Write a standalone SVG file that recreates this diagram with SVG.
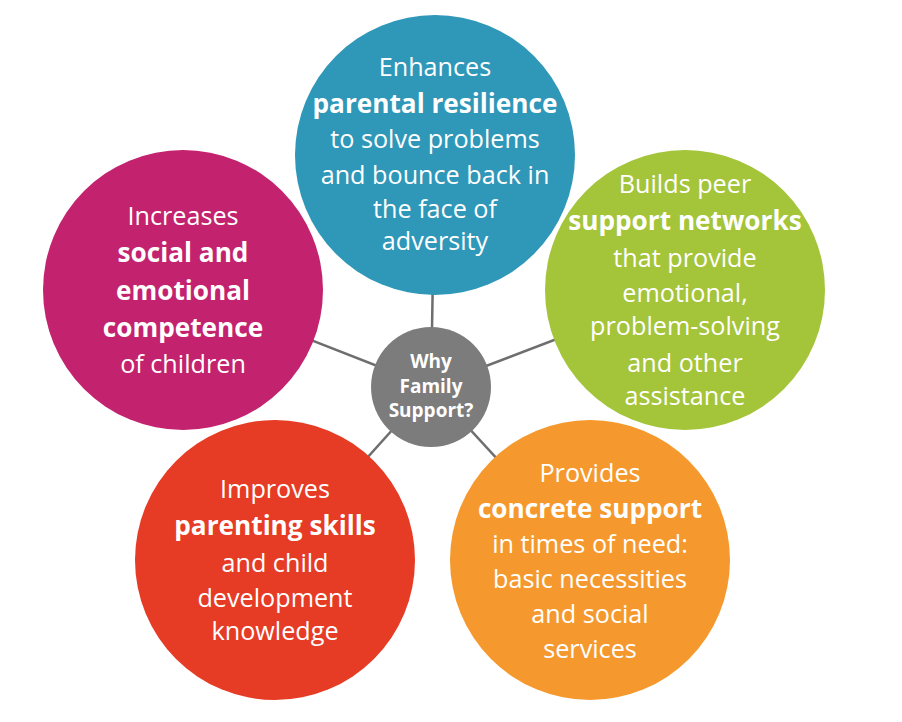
<svg xmlns="http://www.w3.org/2000/svg" width="902" height="722" viewBox="0 0 902 722">
<style>
.t{font-family:"Open Sans","Liberation Sans",sans-serif;font-size:25.2px;fill:#ffffff;text-anchor:middle}
.b{font-weight:bold;font-size:26.2px}
.c{font-family:"Open Sans","Liberation Sans",sans-serif;font-size:19px;font-weight:bold;fill:#ffffff;text-anchor:middle}
.edge{stroke:#6e6e6e;stroke-width:2.5;fill:none}
</style>
<rect width="902" height="722" fill="#ffffff"/>
<g id="connectors">
<line class="edge" x1="431" y1="387" x2="435" y2="155"/>
<line class="edge" x1="431" y1="387" x2="183" y2="290"/>
<line class="edge" x1="431" y1="387" x2="685" y2="290"/>
<line class="edge" x1="431" y1="387" x2="275" y2="560"/>
<line class="edge" x1="431" y1="387" x2="590" y2="560"/>
</g>
<g id="node-resilience">
<circle cx="435" cy="155" r="140" fill="#2f97b8"/>
<text class="t" x="435" y="76">Enhances</text>
<text class="t b" x="435" y="113">parental resilience</text>
<text class="t" x="435" y="148">to solve problems</text>
<text class="t" x="435" y="184">and bounce back in</text>
<text class="t" x="435" y="218">the face of</text>
<text class="t" x="435" y="250">adversity</text>
</g>
<g id="node-social">
<circle cx="183" cy="290" r="140" fill="#c3226f"/>
<text class="t" x="183" y="225">Increases</text>
<text class="t b" x="183" y="262">social and</text>
<text class="t b" x="183" y="300">emotional</text>
<text class="t b" x="183" y="337">competence</text>
<text class="t" x="183" y="373">of children</text>
</g>
<g id="node-peer">
<circle cx="685" cy="290" r="140" fill="#a4c43a"/>
<text class="t" x="685" y="193">Builds peer</text>
<text class="t b" x="685" y="230">support networks</text>
<text class="t" x="685" y="267">that provide</text>
<text class="t" x="685" y="302">emotional,</text>
<text class="t" x="685" y="335">problem-solving</text>
<text class="t" x="685" y="372">and other</text>
<text class="t" x="685" y="405">assistance</text>
</g>
<g id="node-parenting">
<circle cx="275" cy="560" r="140" fill="#e63b25"/>
<text class="t" x="275" y="498">Improves</text>
<text class="t b" x="275" y="535">parenting skills</text>
<text class="t" x="275" y="572">and child</text>
<text class="t" x="275" y="607">development</text>
<text class="t" x="275" y="640">knowledge</text>
</g>
<g id="node-concrete">
<circle cx="590" cy="560" r="140" fill="#f5992e"/>
<text class="t" x="590" y="482">Provides</text>
<text class="t b" x="590" y="518">concrete support</text>
<text class="t" x="590" y="553">in times of need:</text>
<text class="t" x="590" y="588">basic necessities</text>
<text class="t" x="590" y="623">and social</text>
<text class="t" x="590" y="658">services</text>
</g>
<g id="node-center">
<circle cx="431" cy="387" r="60" fill="#7c7c7c"/>
<text class="c" x="431" y="368">Why</text>
<text class="c" x="431" y="393">Family</text>
<text class="c" x="431" y="417">Support?</text>
</g>
</svg>
